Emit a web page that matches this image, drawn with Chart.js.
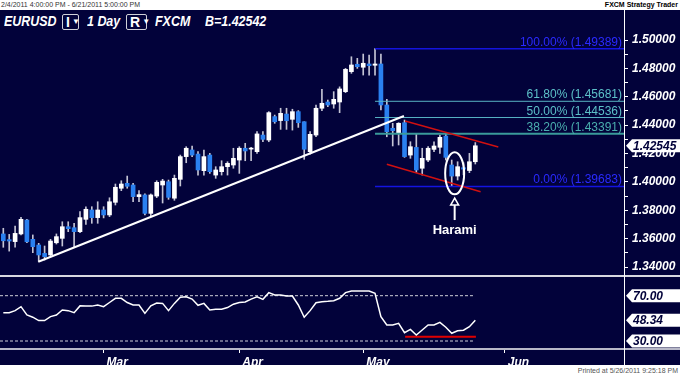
<!DOCTYPE html>
<html>
<head>
<meta charset="utf-8">
<script src="https://cdn.jsdelivr.net/npm/chart.js@4.4.0/dist/chart.umd.min.js"></script>
<style>
body { margin:0; width:680px; height:376px; background:#fff; overflow:hidden; position:relative; font-family:"Liberation Sans", Arial, sans-serif; }
.abs { position:absolute; }
#panel { left:0; top:10px; width:680px; height:355px; background:#02023a; }
#range { left:1px; top:0; font-size:7px; color:#333; line-height:9px; }
#brand { right:2px; top:0; font-size:7px; font-weight:bold; color:#000; line-height:9px; }
#printed { right:2px; top:366px; font-size:7px; color:#555; line-height:9px; }
.t { position:absolute; top:13px; color:#fff; font:italic bold 15px "Liberation Sans", Arial; line-height:15px; white-space:nowrap; transform:scaleX(0.83); transform-origin:left top; }
.bx { position:absolute; top:14px; height:14px; border:1px solid #d0d0d8; border-radius:2px; color:#fff; font:bold 14px "Liberation Sans", Arial; line-height:14px; padding-left:3px; box-sizing:content-box; }
.bx span { font-size:8px; vertical-align:top; margin-left:2px; }
#sep1 { left:0; top:275px; width:680px; height:2px; background:#d8d8e0; }
#sep2 { left:0; top:348px; width:680px; height:2px; background:#b8b8c8; }
#vline { left:624px; top:10px; width:1px; height:355px; background:#fff; }
canvas { position:absolute; left:0; }
</style>
</head>
<body>
<div id="panel" class="abs"></div>
<div id="range" class="abs">2/4/2011 4:00:00 PM - 6/21/2011 5:00:00 PM</div>
<div id="brand" class="abs">FXCM Strategy Trader</div>
<div id="printed" class="abs">Printed at 5/26/2011 9:25:18 PM</div>
<div class="t" style="left:4px">EURUSD</div>
<div class="bx" style="left:62px;width:12px">I<span>&#9660;</span></div>
<div class="t" style="left:87px">1 Day</div>
<div class="bx" style="left:126px;width:16px">R<span>&#9660;</span></div>
<div class="t" style="left:155px">FXCM</div>
<div class="t" style="left:205px">B=1.42542</div>
<canvas id="price" width="680" height="266" style="top:10px"></canvas>
<canvas id="rsi" width="680" height="87" style="top:278px"></canvas>
<div id="sep1" class="abs"></div>
<div id="sep2" class="abs"></div>
<div id="vline" class="abs"></div>
<script>
// daily EURUSD candles, Feb 4 - May 26 2011 (index = trading day)
const candleOpen = [1.3633,1.3593,1.3579,1.3633,1.3731,1.3595,1.3555,1.3496,1.3485,1.3571,
  1.3602,1.3684,1.3677,1.3649,1.3736,1.3802,1.3748,1.3802,1.3767,1.3856,
  1.3955,1.3990,1.3978,1.3896,1.3908,1.3778,1.3900,1.3978,1.4001,1.3885,
  1.4018,1.4178,1.4225,1.4196,1.4079,1.4189,1.4048,1.4072,1.4107,1.4119,
  1.4154,1.4237,1.4231,1.4213,1.4330,1.4295,1.4460,1.4432,1.4478,1.4441,
  1.4495,1.4424,1.4213,1.4330,1.4519,1.4563,1.4549,1.4563,1.4636,1.4777,
  1.4829,1.4808,1.4831,1.4822,1.4831,1.4542,1.4378,1.4342,1.4417,1.4189,
  1.4243,1.4096,1.4154,1.4229,1.4244,1.4323,1.4119,1.4041,1.4100,1.4080,1.4142];
const candleHigh = [1.3673,1.3630,1.3689,1.3750,1.3736,1.3626,1.3567,1.3548,1.3595,1.3633,
  1.3719,1.3719,1.3708,1.3790,1.3825,1.3825,1.3860,1.3825,1.3888,1.3985,
  1.4008,1.4041,1.3990,1.3938,1.3915,1.3915,1.4008,1.4018,1.4013,1.4048,
  1.4189,1.4248,1.4253,1.4213,1.4225,1.4201,1.4107,1.4149,1.4142,1.4237,
  1.4248,1.4272,1.4243,1.4354,1.4354,1.4495,1.4471,1.4519,1.4519,1.4512,
  1.4502,1.4424,1.4354,1.4542,1.4653,1.4577,1.4636,1.4670,1.4800,1.4882,
  1.4871,1.4901,1.4894,1.4939,1.4901,1.4582,1.4413,1.4417,1.4436,1.4283,
  1.4335,1.4237,1.4248,1.4283,1.4330,1.4337,1.4154,1.4142,1.4135,1.4201,1.4277];
const candleLow = [1.3539,1.3512,1.3539,1.3626,1.3571,1.3501,1.3440,1.3449,1.3473,1.3562,
  1.3548,1.3649,1.3539,1.3642,1.3701,1.3708,1.3708,1.3746,1.3755,1.3837,
  1.3938,1.3955,1.3860,1.3860,1.3767,1.3755,1.3889,1.3851,1.3877,1.3870,
  1.3971,1.4135,1.4178,1.4048,1.4048,1.4060,1.4025,1.4048,1.4048,1.4096,
  1.4060,1.4149,1.4149,1.4201,1.4283,1.4283,1.4413,1.4370,1.4370,1.4365,
  1.4384,1.4159,1.4196,1.4318,1.4502,1.4530,1.4519,1.4488,1.4629,1.4765,
  1.4800,1.4753,1.4753,1.4753,1.4507,1.4318,1.4253,1.4260,1.4173,1.4166,
  1.4065,1.4048,1.4142,1.4213,1.4201,1.4154,1.3968,1.4013,1.4050,1.4065,1.4126];
const candleClose = [1.3585,1.3583,1.3637,1.3736,1.3578,1.3543,1.3485,1.3473,1.3583,1.3614,
  1.3684,1.3670,1.3649,1.3748,1.3807,1.3748,1.3802,1.3767,1.3860,1.3962,
  1.3985,1.3969,1.3896,1.3910,1.3778,1.3908,1.3997,1.4006,1.3891,1.4025,
  1.4178,1.4237,1.4189,1.4084,1.4178,1.4072,1.4084,1.4107,1.4131,1.4166,
  1.4237,1.4218,1.4237,1.4338,1.4300,1.4488,1.4424,1.4483,1.4431,1.4495,
  1.4417,1.4230,1.4335,1.4519,1.4554,1.4542,1.4582,1.4655,1.4793,1.4824,
  1.4812,1.4836,1.4819,1.4831,1.4542,1.4354,1.4361,1.4413,1.4178,1.4248,
  1.4084,1.4166,1.4237,1.4253,1.4314,1.4173,1.4041,1.4107,1.4090,1.4142,1.42545];
const rsiValues = [55,55,56.8,60.3,53,51,48,48,51.5,53,
  57.4,56.8,55,61,60.8,60.8,61.8,60.3,64,67.7,
  67.7,64,61.8,61.8,54.4,61,63.5,63.2,56.8,63.2,
  68.6,69,67,61.5,63.2,57.4,58,58,59.5,62.5,
  64,64.5,67,69,66.8,72.7,70.6,70.6,69.7,69.7,
  61.8,51,56.8,63.8,64.7,65,65.6,67.7,72.7,74.1,
  74.1,74.1,74.1,72,51.5,44.1,44.1,45.6,37.3,40.3,
  35.3,39.7,44.1,44.1,46.5,42.1,36.8,39.1,39.5,42.6,48.34];

const monthTicks = [17, 40, 61, 85];
const monthLabels = ['Mar', 'Apr', 'May', 'Jun'];
const priceTicks = [1.34,1.35,1.36,1.37,1.38,1.39,1.40,1.41,1.42,1.43,1.44,1.45,1.46,1.47,1.48,1.49,1.50];
const fibLevels = ['100.00%', '61.80%', '50.00%', '38.20%', '0.00%'];
const fibPrices = [1.49389, 1.45681, 1.44536, 1.43391, 1.39683];
const fibStart = 63;
const trendX = [5.93, 67.9], trendY = [1.3437, 1.4464];
const channelUpX = [68.1, 83.9], channelUpY = [1.4429, 1.4246];
const channelLoX = [65.0, 80.9], channelLoY = [1.4124, 1.3931];
const rsiLevels = [70, 30];
const rsiLevelEnd = 79.6;
const rsiSupportX = [68.1, 80.1], rsiSupportY = 33.8;
const lastPrice = 1.42545, lastRsi = 48.34;
const haramiX = 76.5, haramiY = 1.406, arrowTipY = 1.3886, arrowTailY = 1.3731;
const xMin = -0.56, xMax = 105.2;

const NAVY = '#02023a';
const BLUE = '#2a80f0';
const fibColors = ['#2a2aff', '#5cc0c8', '#5cc0c8', '#4aaeae', '#2a2aff'];
const fibLine = ['#1414e0', '#58b4c4', '#58b4c4', '#3a9a9a', '#1414e0'];
const fibWidth = [1.5, 1, 1, 2, 1.5];
const axisFont = { family: '"Liberation Sans", Arial', size: 12, weight: 'bold', style: 'italic' };

function seg(xs, ys) {
  return [{ x: xs[0], y: ys[0] }, { x: xs[1], y: ys[1] }];
}

function drawFlag(ctx, tipX, yc, text) {
  const h = 13;
  ctx.beginPath();
  ctx.moveTo(tipX, yc);
  ctx.lineTo(tipX + 6, yc - h / 2);
  ctx.lineTo(680, yc - h / 2);
  ctx.lineTo(680, yc + h / 2);
  ctx.lineTo(tipX + 6, yc + h / 2);
  ctx.closePath();
  ctx.fillStyle = '#fff';
  ctx.fill();
  ctx.fillStyle = NAVY;
  ctx.font = 'italic bold 12px "Liberation Sans", Arial';
  ctx.textAlign = 'left';
  ctx.textBaseline = 'middle';
  ctx.fillText(text, tipX + 7, yc + 0.5);
}

const priceOverlay = {
  id: 'priceOverlay',
  afterDatasetsDraw(chart) {
    const { ctx, scales: { x, y } } = chart;
    ctx.save();
    ctx.font = '12px "Liberation Sans", Arial';
    ctx.textAlign = 'right';
    ctx.textBaseline = 'alphabetic';
    fibPrices.forEach((p, k) => {
      ctx.fillStyle = fibColors[k];
      ctx.fillText(fibLevels[k] + ' (' + p.toFixed(5) + ')', x.right - 2, y.getPixelForValue(p) - 3);
    });

    // harami marker
    const cx = x.getPixelForValue(haramiX), cy = y.getPixelForValue(haramiY);
    ctx.strokeStyle = '#fff';
    ctx.lineWidth = 2;
    ctx.beginPath();
    ctx.ellipse(cx, cy, 9.5, 21, 0, 0, Math.PI * 2);
    ctx.stroke();
    const tip = y.getPixelForValue(arrowTipY), tail = y.getPixelForValue(arrowTailY);
    ctx.beginPath();
    ctx.moveTo(cx, tip + 7);
    ctx.lineTo(cx, tail);
    ctx.stroke();
    ctx.lineWidth = 1.5;
    ctx.beginPath();
    ctx.moveTo(cx, tip);
    ctx.lineTo(cx - 4, tip + 7);
    ctx.lineTo(cx + 4, tip + 7);
    ctx.closePath();
    ctx.stroke();
    ctx.fillStyle = '#fff';
    ctx.font = 'bold 13px "Liberation Sans", Arial';
    ctx.textAlign = 'center';
    ctx.fillText('Harami', cx, tail + 13.5);
    ctx.restore();
  },
  afterDraw(chart) {
    const { ctx, scales: { y } } = chart;
    ctx.save();
    drawFlag(ctx, 626, y.getPixelForValue(lastPrice), lastPrice.toFixed(5));
    ctx.restore();
  }
};

const rsiOverlay = {
  id: 'rsiOverlay',
  afterDraw(chart) {
    const { ctx, scales: { y } } = chart;
    ctx.save();
    drawFlag(ctx, 626, y.getPixelForValue(rsiLevels[0]), rsiLevels[0].toFixed(2));
    drawFlag(ctx, 626, y.getPixelForValue(lastRsi), lastRsi.toFixed(2));
    drawFlag(ctx, 626, y.getPixelForValue(rsiLevels[1]), rsiLevels[1].toFixed(2));
    ctx.restore();
  }
};

const lineDs = (data, color, width, extra) => Object.assign({
  type: 'line', data, borderColor: color, borderWidth: width,
  pointRadius: 0, fill: false, tension: 0, order: 0
}, extra || {});

const priceDatasets = [
  {
    type: 'bar',
    data: candleOpen.map((o, i) => ({ x: i, y: [o, candleClose[i]] })),
    backgroundColor: candleOpen.map((o, i) => candleClose[i] >= o ? '#ffffff' : BLUE),
    barThickness: 4, minBarLength: 1, grouped: false, borderWidth: 0, order: 1
  },
  {
    type: 'bar',
    data: candleLow.map((l, i) => ({ x: i, y: [l, candleHigh[i]] })),
    backgroundColor: '#c4c4d4',
    barThickness: 1, grouped: false, borderWidth: 0, order: 2
  },
  lineDs(seg(trendX, trendY), '#ffffff', 2),
  lineDs(seg(channelUpX, channelUpY), '#d01010', 1.5),
  lineDs(seg(channelLoX, channelLoY), '#d01010', 1.5)
];
fibPrices.forEach((p, k) => {
  priceDatasets.push(lineDs([{ x: fibStart, y: p }, { x: xMax, y: p }], fibLine[k], fibWidth[k]));
});

new Chart(document.getElementById('price'), {
  type: 'bar',
  data: { datasets: priceDatasets },
  options: {
    animation: false, responsive: false, events: [],
    layout: { padding: 0 },
    plugins: { legend: { display: false }, tooltip: { enabled: false } },
    scales: {
      x: { type: 'linear', min: xMin, max: xMax, offset: false, display: false, grid: { offset: false } },
      y: {
        position: 'right', min: 1.33366, max: 1.52115,
        afterBuildTicks: s => { s.ticks = priceTicks.map(v => ({ value: v })); },
        afterFit: s => { s.width = 56; s.paddingTop = 0; s.paddingBottom = 0; },
        ticks: {
          color: '#fff', font: axisFont, padding: 4, autoSkip: false,
          callback: v => (Math.round(v * 100) % 2 === 0 ? v.toFixed(5) : '')
        },
        grid: { drawOnChartArea: false, color: '#fff', tickLength: 4 },
        border: { display: false }
      }
    }
  },
  plugins: [priceOverlay]
});

const rsiDatasets = [
  lineDs(rsiValues.map((v, i) => ({ x: i, y: v })), '#ffffff', 1.5),
  lineDs([{ x: xMin, y: rsiLevels[0] }, { x: rsiLevelEnd, y: rsiLevels[0] }], '#d0d0d8', 1, { borderDash: [3, 2] }),
  lineDs([{ x: xMin, y: rsiLevels[1] }, { x: rsiLevelEnd, y: rsiLevels[1] }], '#d0d0d8', 1, { borderDash: [3, 2] }),
  lineDs([{ x: rsiSupportX[0], y: rsiSupportY }, { x: rsiSupportX[1], y: rsiSupportY }], '#e00000', 2)
];

new Chart(document.getElementById('rsi'), {
  type: 'line',
  data: { datasets: rsiDatasets },
  options: {
    animation: false, responsive: false, events: [],
    layout: { padding: 0 },
    plugins: { legend: { display: false }, tooltip: { enabled: false } },
    scales: {
      x: {
        type: 'linear', min: xMin, max: xMax, offset: false,
        afterBuildTicks: s => { s.ticks = monthTicks.map(v => ({ value: v })); },
        afterFit: s => { s.height = 16; s.paddingLeft = 0; s.paddingRight = 0; },
        ticks: {
          color: '#fff', font: axisFont, align: 'start', labelOffset: 3, padding: 2,
          maxRotation: 0, autoSkip: false,
          callback: (v, i) => monthLabels[i]
        },
        grid: { drawOnChartArea: false, color: '#fff', tickLength: 4 },
        border: { display: false }
      },
      y: {
        position: 'right', min: 22.94, max: 85.62,
        afterFit: s => { s.width = 56; s.paddingTop = 0; s.paddingBottom = 0; },
        ticks: { display: false },
        grid: { display: false },
        border: { display: false }
      }
    }
  },
  plugins: [rsiOverlay]
});
</script>
</body>
</html>
